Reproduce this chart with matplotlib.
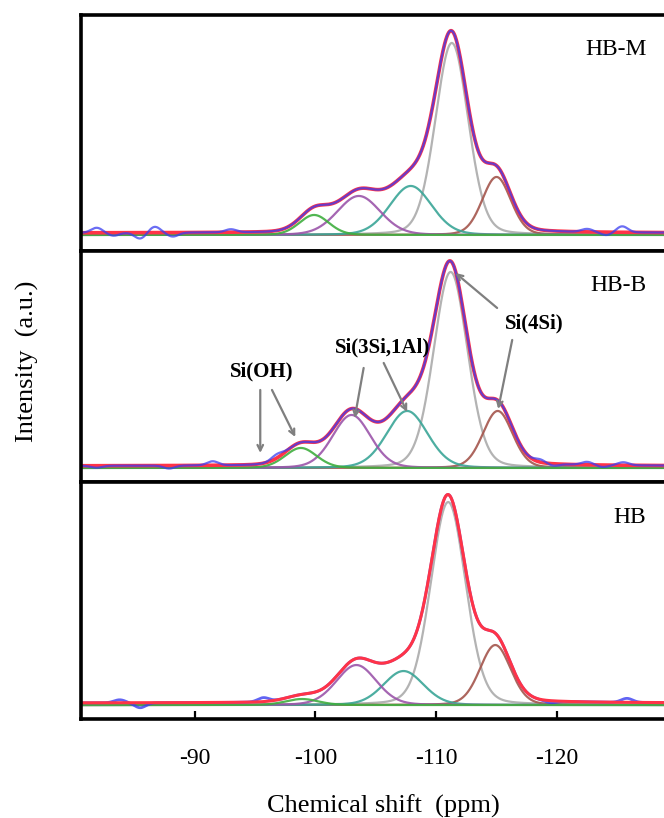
import numpy as np
import matplotlib
matplotlib.use("Agg")
import matplotlib.pyplot as plt

plt.rcParams["font.family"] = ["Liberation Serif", "DejaVu Serif"]

# peak order: Si(OH) green, purple, teal (Si(3Si,1Al)), gray (Si(4Si)), brown shoulder
comp_colors = ["#3fae3f", "#9b55aa", "#3aa597", "#ababab", "#a4554c"]

panel_names = ["HB-M", "HB-B", "HB"]

# fitted components (centre ppm, height, fwhm ppm)
hbm_centers = [-99.9, -103.6, -107.9, -111.3, -115.0]
hbm_heights = [20, 39, 49, 192, 58]
hbm_fwhm = [2.9, 4.2, 4.1, 3.2, 2.8]

hbb_centers = [-98.8, -103.0, -107.6, -111.2, -115.1]
hbb_heights = [20, 53, 57, 196, 57]
hbb_fwhm = [3.1, 3.7, 4.0, 3.3, 2.9]

hb_centers = [-98.9, -103.4, -107.3, -111.0, -114.9]
hb_heights = [6, 40, 34, 203, 60]
hb_fwhm = [3.2, 3.9, 3.9, 3.4, 3.0]

# small ripples of the measured spectrum around the baseline
hbm_ripple_ppm = [-81.9, -83.3, -85.5, -86.7, -88.2, -93.0, -122.5, -124.1, -125.4]
hbm_ripple_amp = [5, -3, -6, 6, -4, 3, 3, -3, 6]
hbb_ripple_ppm = [-81.9, -87.9, -91.5, -96.8, -118.6, -119.7, -122.5, -123.8, -125.5]
hbb_ripple_amp = [-2, -3, 4, 4, 3, -2, 3, -2, 3]
hb_ripple_ppm = [-83.8, -85.5, -95.7, -119.5, -125.8]
hb_ripple_amp = [3, -5, 4, -2, 4]

panels = [
    (hbm_centers, hbm_heights, hbm_fwhm, hbm_ripple_ppm, hbm_ripple_amp),
    (hbb_centers, hbb_heights, hbb_fwhm, hbb_ripple_ppm, hbb_ripple_amp),
    (hb_centers, hb_heights, hb_fwhm, hb_ripple_ppm, hb_ripple_amp),
]

ylims = [(-16, 220), (-14, 217), (-14, 223)]
# axes boxes in figure fraction: left, bottom, width, height
boxes = [
    [0.122, 0.6932, 0.935, 0.2885],
    [0.122, 0.4108, 0.935, 0.2824],
    [0.122, 0.1210, 0.935, 0.2897],
]

x = np.linspace(-80.6, -132, 1500)


def gauss(x, c, h, fwhm):
    s = fwhm / 2.3548
    return h * np.exp(-0.5 * ((x - c) / s) ** 2)


def voigt(x, c, h, fwhm, eta=0.15):
    # pseudo-Voigt line shape, like the fitting program uses
    lor = 1.0 / (1.0 + ((x - c) / (fwhm / 2)) ** 2)
    return eta * h * lor + (1 - eta) * gauss(x, c, h, fwhm)


fig = plt.figure(figsize=(6.64, 8.18), dpi=100)

axes = []
for i, (cen, hgt, fw, rp, ra) in enumerate(panels):
    ax = fig.add_axes(boxes[i])
    axes.append(ax)
    comps = [voigt(x, c, h, f) for c, h, f in zip(cen, hgt, fw)]
    total = np.sum(comps, axis=0) + 2
    ripple = np.zeros_like(x)
    for p, a in zip(rp, ra):
        ripple += gauss(x, p, a, 1.1)
    measured = total + ripple

    for k in [3, 4, 2, 1, 0]:
        ax.plot(x, comps[k], color=comp_colors[k], lw=1.6, alpha=0.9)
    if i < 2:
        ax.plot(x, total, color="#ff3347", lw=2.6)
        ax.plot(x, measured, color="#3a3df0", lw=1.6, alpha=0.75)
    else:
        ax.plot(x, measured, color="#3a3df0", lw=2.0, alpha=0.8)
        ax.plot(x, total, color="#ff3347", lw=2.2)

    ax.set_xlim(-80.6, -132)
    ax.set_ylim(*ylims[i])
    ax.set_yticks([])
    for sp in ax.spines.values():
        sp.set_linewidth(2.6)
    ax.text(-127.4, ylims[i][1] - 35, panel_names[i], ha="right", va="center", fontsize=17)
    if i < 2:
        ax.set_xticks([])
    else:
        ax.set_xticks([-90, -100, -110, -120])
        ax.set_xticklabels(["-90", "-100", "-110", "-120"])
        ax.tick_params(axis="x", direction="in", length=6, width=1.6, labelsize=17, pad=21)

# labels on the HB-B panel
ax = axes[1]
arrow = dict(arrowstyle="->", color="#7f7f7f", lw=1.6, shrinkA=0, shrinkB=0)
bold = dict(fontsize=15, fontweight="bold", ha="center", va="center")
ax.text(-95.6, 96, "Si(OH)", **bold)
ax.annotate("", xy=(-95.44, 15), xytext=(-95.44, 78), arrowprops=arrow)
ax.annotate("", xy=(-98.34, 31), xytext=(-96.41, 78), arrowprops=arrow)
ax.text(-105.6, 120, "Si(3Si,1Al)", **bold)
ax.annotate("", xy=(-103.26, 50), xytext=(-104.0, 100), arrowprops=arrow)
ax.annotate("", xy=(-107.6, 56), xytext=(-105.66, 105), arrowprops=arrow)
ax.text(-118.1, 144, "Si(4Si)", **bold)
ax.annotate("", xy=(-111.6, 195), xytext=(-115.05, 160), arrowprops=arrow)
ax.annotate("", xy=(-115.14, 59), xytext=(-116.3, 128), arrowprops=arrow)

fig.text(383 / 664, 1 - 806 / 818, "Chemical shift  (ppm)", ha="center", va="center", fontsize=19)
fig.text(27 / 664, 1 - 361 / 818, "Intensity  (a.u.)", ha="center", va="center",
         rotation=90, fontsize=19)

fig.savefig("out.png", dpi=100)
